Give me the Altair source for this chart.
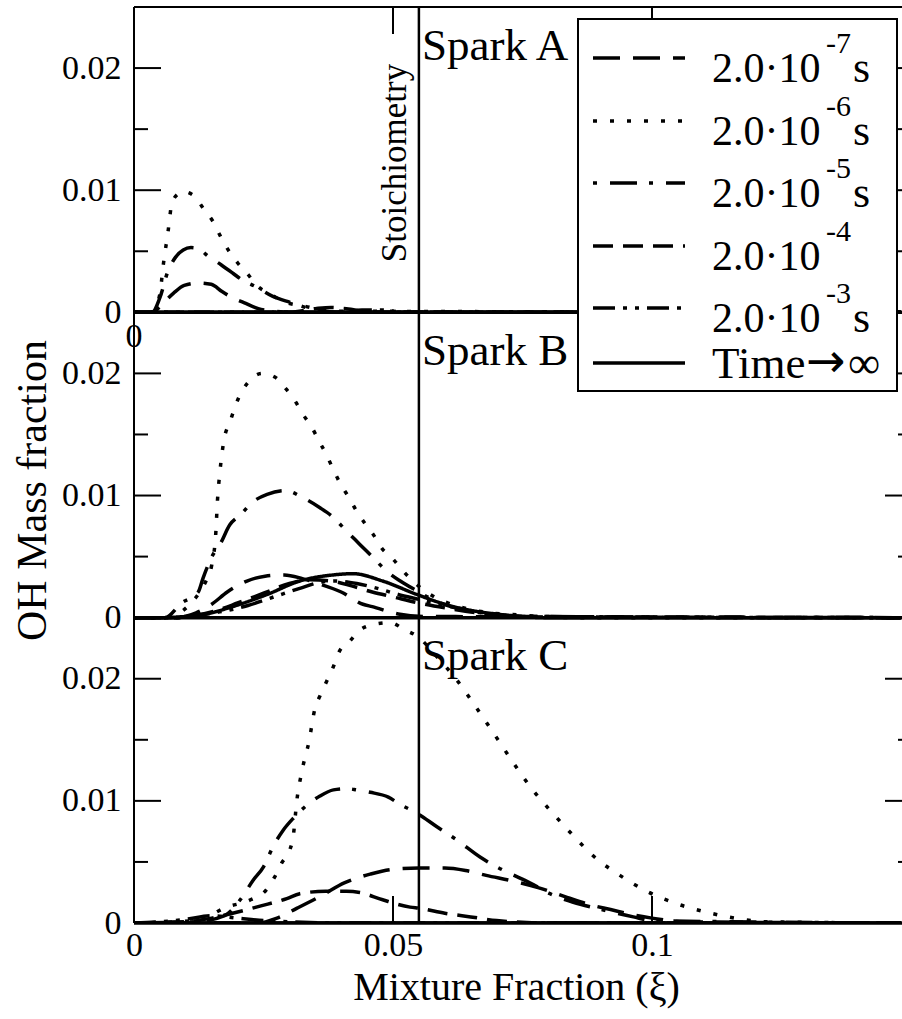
import altair as alt
import pandas as pd

# ---------------- data ----------------
X_MAX = 0.14826          # visible right end of the mixture-fraction axis
PANEL_HEIGHT = 0.025     # each panel spans 0 .. 0.025 OH mass fraction
STOICH = 0.055

SPARKS = ["Spark A", "Spark B", "Spark C"]
PANEL_BASE = [0.05, 0.025, 0.0]          # stacking of the three panels

SERIES = ["2.0e-7 s", "2.0e-6 s", "2.0e-5 s", "2.0e-4", "2.0e-3 s", "Time->inf"]

# Spark A
A_S7_X = [0, 0.0035, 0.0055, 0.0077, 0.0097, 0.0125, 0.0149, 0.017, 0.019, 0.0212, 0.024, 0.027, 0.03, 0.148]
A_S7_Y = [0, 0, 0.0007, 0.0016, 0.0022, 0.0024, 0.0023, 0.0017, 0.0012, 0.0008, 0.0003, 0.0001, 0, 0]
A_S6_X = [0, 0.0035, 0.005, 0.0056, 0.0066, 0.0073, 0.0085, 0.0093, 0.0114, 0.0134, 0.0153, 0.0166, 0.0185,
          0.0201, 0.022, 0.0237, 0.0263, 0.0288, 0.033, 0.038, 0.148]
A_S6_Y = [0, 0, 0.0015, 0.0037, 0.0067, 0.0089, 0.0097, 0.0099, 0.0096, 0.0085, 0.0074, 0.0063, 0.0049,
          0.0040, 0.0031, 0.0022, 0.0015, 0.0009, 0.0005, 0.0001, 0]
A_S5_X = [0, 0.0035, 0.005, 0.0065, 0.008, 0.0095, 0.011, 0.0125, 0.0143, 0.0168, 0.0191, 0.0207, 0.0235,
          0.0268, 0.0303, 0.034, 0.04, 0.148]
A_S5_Y = [0, 0, 0.0012, 0.0033, 0.0045, 0.0051, 0.0053, 0.0052, 0.0046, 0.0039, 0.0032, 0.0027, 0.0021,
          0.0013, 0.0008, 0.0003, 0, 0]
A_S4_X = [0, 0.03, 0.035, 0.038, 0.041, 0.046, 0.148]
A_S4_Y = [0, 0, 0.0003, 0.0004, 0.0003, 0, 0]
A_S3_X = [0, 0.04, 0.044, 0.048, 0.052, 0.148]
A_S3_Y = [0, 0, 0.0002, 0.0002, 0, 0]
A_INF_X = [0, 0.148]
A_INF_Y = [0, 0]

# Spark B
B_S7_X = [0, 0.008, 0.012, 0.015, 0.018, 0.0218, 0.0253, 0.029, 0.0325, 0.0355, 0.040, 0.0442, 0.046, 0.051, 0.056, 0.148]
B_S7_Y = [0, 0, 0.0004, 0.0011, 0.0021, 0.0030, 0.0034, 0.0035, 0.0032, 0.0028, 0.0021, 0.0011, 0.0009, 0.0003, 0.0001, 0]
B_S6_X = [0, 0.006, 0.0095, 0.0108, 0.0127, 0.014, 0.015, 0.0158, 0.0161, 0.0166, 0.0174, 0.0185, 0.0203, 0.0221,
          0.0247, 0.0272, 0.0292, 0.031, 0.0327, 0.0343, 0.0358, 0.0372, 0.0385, 0.0398, 0.0414, 0.043, 0.0446,
          0.0462, 0.0478, 0.05, 0.052, 0.0546, 0.058, 0.062, 0.067, 0.075, 0.085, 0.148]
B_S6_Y = [0, 0, 0.0006, 0.0011, 0.0021, 0.0031, 0.0043, 0.0070, 0.0095, 0.0120, 0.0146, 0.0160, 0.0181, 0.0193,
          0.0200, 0.0197, 0.0188, 0.0178, 0.0166, 0.0156, 0.0144, 0.0133, 0.0121, 0.0110, 0.0099, 0.0087, 0.0077,
          0.0068, 0.0057, 0.0048, 0.0038, 0.0027, 0.0017, 0.0010, 0.0005, 0.0002, 0, 0]
B_S5_X = [0, 0.006, 0.0092, 0.0124, 0.0133, 0.0153, 0.0166, 0.0185, 0.0205, 0.023, 0.0257, 0.0292, 0.0327,
          0.0359, 0.0385, 0.041, 0.0436, 0.0462, 0.0488, 0.0514, 0.0546, 0.058, 0.062, 0.067, 0.075, 0.148]
B_S5_Y = [0, 0, 0.0012, 0.0021, 0.0032, 0.0052, 0.0060, 0.0076, 0.0084, 0.0095, 0.0101, 0.0104, 0.0098,
          0.0090, 0.0082, 0.0071, 0.0060, 0.0049, 0.0038, 0.0030, 0.0022, 0.0014, 0.0008, 0.0004, 0.0001, 0]
B_S4_X = [0, 0.008, 0.012, 0.016, 0.02, 0.025, 0.03, 0.034, 0.038, 0.042, 0.046, 0.05, 0.055, 0.06, 0.066, 0.075, 0.148]
B_S4_Y = [0, 0, 0.0002, 0.0006, 0.0012, 0.0020, 0.0028, 0.0031, 0.0030, 0.0026, 0.0021, 0.0017, 0.0012, 0.0008,
          0.0004, 0.0001, 0]
B_S3_X = [0, 0.008, 0.012, 0.017, 0.022, 0.027, 0.032, 0.036, 0.039, 0.043, 0.047, 0.051, 0.055, 0.06, 0.066, 0.075, 0.148]
B_S3_Y = [0, 0, 0.0002, 0.0005, 0.0010, 0.0017, 0.0024, 0.0029, 0.0030, 0.0028, 0.0024, 0.0019, 0.0015, 0.0010,
          0.0005, 0.0001, 0]
B_INF_X = [0, 0.005, 0.01, 0.0127, 0.019, 0.0257, 0.032, 0.0385, 0.0423, 0.048, 0.0546, 0.06, 0.065, 0.07, 0.08, 0.148]
B_INF_Y = [0, 0, 0.0001, 0.0002, 0.0009, 0.0019, 0.0030, 0.0035, 0.0036, 0.0030, 0.0019, 0.0011, 0.0006, 0.0003, 0, 0]

# Spark C
C_S7_X = [0, 0.024, 0.0276, 0.0314, 0.036, 0.0407, 0.0456, 0.05, 0.055, 0.06, 0.064, 0.068, 0.0735, 0.078,
          0.0836, 0.088, 0.092, 0.096, 0.1, 0.106, 0.148]
C_S7_Y = [0, 0, 0.0004, 0.0012, 0.0022, 0.0033, 0.0040, 0.0044, 0.0045, 0.0045, 0.0043, 0.0039, 0.0034, 0.0029,
          0.0021, 0.0015, 0.0011, 0.0007, 0.0004, 0.0001, 0]
C_S6_X = [0, 0.012, 0.0179, 0.0225, 0.0255, 0.0272, 0.0285, 0.0301, 0.0308, 0.0314, 0.0324, 0.0338, 0.0349,
          0.0359, 0.0372, 0.0385, 0.0396, 0.0417, 0.0436, 0.0469, 0.0494, 0.0523, 0.0546, 0.0585, 0.0623, 0.0663,
          0.0698, 0.0731, 0.0766, 0.0806, 0.0847, 0.0889, 0.0938, 0.099, 0.1046, 0.1104, 0.116, 0.122, 0.148]
C_S6_Y = [0, 0.0002, 0.0013, 0.0019, 0.0027, 0.0038, 0.0049, 0.0060, 0.0073, 0.0099, 0.0124, 0.0149, 0.0175,
          0.0186, 0.0198, 0.0210, 0.0222, 0.0231, 0.0240, 0.0245, 0.0246, 0.0240, 0.0235, 0.0218, 0.0199, 0.0175,
          0.0153, 0.0132, 0.0111, 0.0091, 0.0072, 0.0054, 0.0039, 0.0026, 0.0016, 0.0009, 0.0004, 0.0001, 0]
C_S5_X = [0, 0.012, 0.0175, 0.0205, 0.023, 0.025, 0.0269, 0.0288, 0.0308, 0.0327, 0.0359, 0.0385, 0.0411, 0.043,
          0.0456, 0.0491, 0.0514, 0.0546, 0.0584, 0.0623, 0.0668, 0.07, 0.0739, 0.0764, 0.0803, 0.0848, 0.0893,
          0.0932, 0.0964, 0.1, 0.148]
C_S5_Y = [0, 0.0001, 0.0006, 0.0019, 0.0035, 0.0046, 0.0063, 0.0076, 0.0086, 0.0094, 0.0104, 0.0109, 0.0110, 0.0109,
          0.0107, 0.0103, 0.0097, 0.0090, 0.0079, 0.0068, 0.0054, 0.0046, 0.0038, 0.0033, 0.0024, 0.0017, 0.0012,
          0.0008, 0.0005, 0.0002, 0]
C_S4_X = [0, 0.01, 0.015, 0.02, 0.0245, 0.0295, 0.032, 0.037, 0.041, 0.0436, 0.048, 0.0533, 0.0552, 0.06, 0.065,
          0.07, 0.08, 0.148]
C_S4_Y = [0, 0.0001, 0.0004, 0.0009, 0.0014, 0.0020, 0.0024, 0.0026, 0.0026, 0.0025, 0.0019, 0.0013, 0.0012, 0.0008,
          0.0005, 0.0002, 0, 0]
C_S3_X = [0, 0.005, 0.01, 0.015, 0.02, 0.025, 0.03, 0.04, 0.148]
C_S3_Y = [0, 0.0001, 0.0003, 0.0006, 0.0004, 0.0002, 0.0001, 0, 0]
C_INF_X = [0, 0.148]
C_INF_Y = [0, 0]

CURVES = {
    "Spark A": [(A_S7_X, A_S7_Y), (A_S6_X, A_S6_Y), (A_S5_X, A_S5_Y), (A_S4_X, A_S4_Y), (A_S3_X, A_S3_Y), (A_INF_X, A_INF_Y)],
    "Spark B": [(B_S7_X, B_S7_Y), (B_S6_X, B_S6_Y), (B_S5_X, B_S5_Y), (B_S4_X, B_S4_Y), (B_S3_X, B_S3_Y), (B_INF_X, B_INF_Y)],
    "Spark C": [(C_S7_X, C_S7_Y), (C_S6_X, C_S6_Y), (C_S5_X, C_S5_Y), (C_S4_X, C_S4_Y), (C_S3_X, C_S3_Y), (C_INF_X, C_INF_Y)],
}

Y_TICK_LABELS = [0, 0.01, 0.02]
Y_MAJOR = [0.01, 0.02]
Y_MINOR = [0.005, 0.015]
X_TICKS = [0, 0.05, 0.1]
X_INNER_TICKS = [0.05, 0.1]

LEGEND_BASE = ["2.0·10", "2.0·10", "2.0·10", "2.0·10", "2.0·10", "Time"]
LEGEND_EXP = ["-7", "-6", "-5", "-4", "-3", ""]
LEGEND_UNIT = ["s", "s", "s", "", "s", ""]

# ---------------- style ----------------
FONT = "Liberation Serif"
DASHES = [[27, 13], [4, 13], [4, 13, 27, 12], [20, 10], [22, 8, 4, 8, 4, 8], [1, 0]]
LW = 3.5
W, H = 768, 916

# ---------------- build tables ----------------
rows = []
for spark, base in zip(SPARKS, PANEL_BASE):
    for name, (xs, ys) in zip(SERIES, CURVES[spark]):
        for xv, yv in zip(xs, ys):
            rows.append({"spark": spark, "series": name, "x": xv, "y": yv, "yp": yv + base})
df = pd.DataFrame(rows)

ymaj = pd.DataFrame({"yp": [v + b for b in PANEL_BASE for v in Y_MAJOR]})
ymin = pd.DataFrame({"yp": [v + b for b in PANEL_BASE for v in Y_MINOR]})
ylab_vals = sorted(v + b for b in PANEL_BASE for v in Y_TICK_LABELS)
bounds = pd.DataFrame({"yp": [b for b in PANEL_BASE if b > 0]})
xin = pd.DataFrame({"x": X_INNER_TICKS})
spark_lbl = pd.DataFrame({"text": SPARKS, "x": [0.0556] * 3, "yp": [b + 0.0207 for b in PANEL_BASE]})

XS = alt.Scale(domain=[0, X_MAX], nice=False, zero=False)
YS = alt.Scale(domain=[0, 3 * PANEL_HEIGHT], nice=False, zero=False)

X_AXIS = alt.Axis(values=X_TICKS, labelExpr="format(datum.value, '')", ticks=False, tickSize=0, domain=False,
                  grid=False, labelFont=FONT, labelFontSize=34, labelColor="black", labelBaseline="alphabetic",
                  labelPadding=32, labelFlush=False, labelOverlap=False,
                  title="Mixture Fraction (ξ)", titleFont=FONT, titleFontSize=40, titleFontWeight="normal",
                  titleColor="black", titleX=382, titleY=76, titleBaseline="alphabetic", titleAlign="center")
Y_AXIS = alt.Axis(values=ylab_vals, labelExpr="format(round((datum.value % 0.025) * 1000) / 1000, '')",
                  ticks=False, tickSize=0, domain=False, grid=False, labelFont=FONT, labelFontSize=34,
                  labelColor="black", labelPadding=13, labelFlush=False, labelOverlap=False, labelBaseline="middle",
                  title="OH Mass fraction", titleFont=FONT, titleFontSize=42, titleFontWeight="normal",
                  titleColor="black", titleX=-89, titleY=483, titleAngle=270, titleBaseline="alphabetic",
                  titleAlign="center")


def X(field=None, datum=None):
    if datum is not None:
        return alt.X(datum=datum, type="quantitative", scale=XS, axis=X_AXIS)
    return alt.X(field, type="quantitative", scale=XS, axis=X_AXIS)


def Y(field):
    return alt.Y(field, type="quantitative", scale=YS, axis=Y_AXIS)


curves = alt.Chart(df).mark_line(strokeWidth=LW, color="black", clip=True, interpolate="monotone").encode(
    x=X("x"),
    y=Y("yp"),
    strokeDash=alt.StrokeDash("series:N", scale=alt.Scale(domain=SERIES, range=DASHES), legend=None),
    detail="spark:N",
)

one = pd.DataFrame({"k": [0]})
frame_left = alt.Chart(one).mark_rule(color="black", strokeWidth=2).encode(
    x=alt.value(0), y=alt.value(0), y2=alt.value(H))
frame_top = alt.Chart(one).mark_rule(color="black", strokeWidth=2).encode(
    x=alt.value(0), x2=alt.value(W), y=alt.value(0))
frame_bottom = alt.Chart(one).mark_rule(color="black", strokeWidth=3.5).encode(
    x=alt.value(0), x2=alt.value(W), y=alt.value(H))
boundary = alt.Chart(bounds).mark_rule(color="black", strokeWidth=3.5).encode(
    x=alt.value(0), x2=alt.value(W), y=Y("yp"))
stoich = alt.Chart(one).mark_rule(color="black", strokeWidth=2.5).encode(
    x=X(datum=STOICH), y=alt.value(0), y2=alt.value(H))

tick_l_maj = alt.Chart(ymaj).mark_rule(color="black", strokeWidth=2).encode(
    x=alt.value(0), x2=alt.value(27), y=Y("yp"))
tick_l_min = alt.Chart(ymin).mark_rule(color="black", strokeWidth=2).encode(
    x=alt.value(0), x2=alt.value(14), y=Y("yp"))
tick_r_maj = alt.Chart(ymaj).mark_rule(color="black", strokeWidth=2).encode(
    x=alt.value(W - 17), x2=alt.value(W), y=Y("yp"))
tick_r_min = alt.Chart(ymin).mark_rule(color="black", strokeWidth=2).encode(
    x=alt.value(W - 4), x2=alt.value(W), y=Y("yp"))
tick_top = alt.Chart(xin).mark_rule(color="black", strokeWidth=2).encode(
    x=X("x"), y=alt.value(0), y2=alt.value(27))
tick_bot = alt.Chart(xin).mark_rule(color="black", strokeWidth=2).encode(
    x=X("x"), y=alt.value(H - 27), y2=alt.value(H))

spark_text = alt.Chart(spark_lbl).mark_text(font=FONT, fontSize=45, align="left", baseline="alphabetic",
                                            color="black").encode(
    x=X("x"), y=Y("yp"), text="text:N")
stoich_text = alt.Chart(pd.DataFrame({"t": ["Stoichiometry"]})).mark_text(
    font=FONT, fontSize=35, angle=270, align="center", baseline="alphabetic", color="black").encode(
    x=alt.value(272), y=alt.value(156), text="t:N")
zero_a = alt.Chart(pd.DataFrame({"t": ["0"], "x": [0], "yp": [PANEL_BASE[0]]})).mark_text(
    font=FONT, fontSize=34, align="center", baseline="middle", dy=25, color="black").encode(
    x=X("x"), y=Y("yp"), text="t:N")

# legend (drawn on top)
LEG_X0, LEG_X1, LEG_Y0, LEG_Y1 = 444, 763, 12, 384
ROW_BASELINE = [75, 138, 200, 263, 325, 371]
legend_layers = [alt.Chart(one).mark_rect(fill="white", stroke="black", strokeWidth=2).encode(
    x=alt.value(LEG_X0), x2=alt.value(LEG_X1), y=alt.value(LEG_Y0), y2=alt.value(LEG_Y1))]
for i, name in enumerate(SERIES):
    yb = ROW_BASELINE[i]
    legend_layers.append(alt.Chart(one).mark_rule(color="black", strokeWidth=LW, strokeDash=DASHES[i]).encode(
        x=alt.value(459), x2=alt.value(551), y=alt.value(yb - 24 if i < 5 else yb - 15)))
    legend_layers.append(alt.Chart(pd.DataFrame({"t": [LEGEND_BASE[i]]})).mark_text(
        font=FONT, fontSize=42 if i < 5 else 45, align="left", baseline="alphabetic", color="black").encode(
        x=alt.value(578), y=alt.value(yb), text="t:N"))
    if LEGEND_EXP[i]:
        legend_layers.append(alt.Chart(pd.DataFrame({"t": [LEGEND_EXP[i]]})).mark_text(
            font=FONT, fontSize=30, align="left", baseline="alphabetic", color="black").encode(
            x=alt.value(692), y=alt.value(yb - 29), text="t:N"))
    if LEGEND_UNIT[i]:
        legend_layers.append(alt.Chart(pd.DataFrame({"t": [LEGEND_UNIT[i]]})).mark_text(
            font=FONT, fontSize=44, align="left", baseline="alphabetic", color="black").encode(
            x=alt.value(719), y=alt.value(yb), text="t:N"))
# "→∞" of the last row, with a full-size arrow
legend_layers.append(alt.Chart(pd.DataFrame({"t": ["→"]})).mark_text(
    font="DejaVu Sans", fontSize=47, align="left", baseline="alphabetic", color="black").encode(
    x=alt.value(672), y=alt.value(ROW_BASELINE[5] - 1), text="t:N"))
legend_layers.append(alt.Chart(pd.DataFrame({"t": ["∞"]})).mark_text(
    font=FONT, fontSize=45, align="left", baseline="alphabetic", color="black").encode(
    x=alt.value(714), y=alt.value(ROW_BASELINE[5]), text="t:N"))

chart = alt.layer(
    curves, boundary, frame_left, frame_top, frame_bottom, stoich,
    tick_l_maj, tick_l_min, tick_r_maj, tick_r_min, tick_top, tick_bot,
    spark_text, stoich_text, zero_a, *legend_layers,
).properties(
    width=W, height=H,
    autosize=alt.AutoSizeParams(type="none"),
    padding={"left": 134, "top": 7, "right": 0, "bottom": 96},
    background="white",
).configure_view(stroke=None)

chart.save("out.html", embed_options={"renderer": "svg", "actions": False})
